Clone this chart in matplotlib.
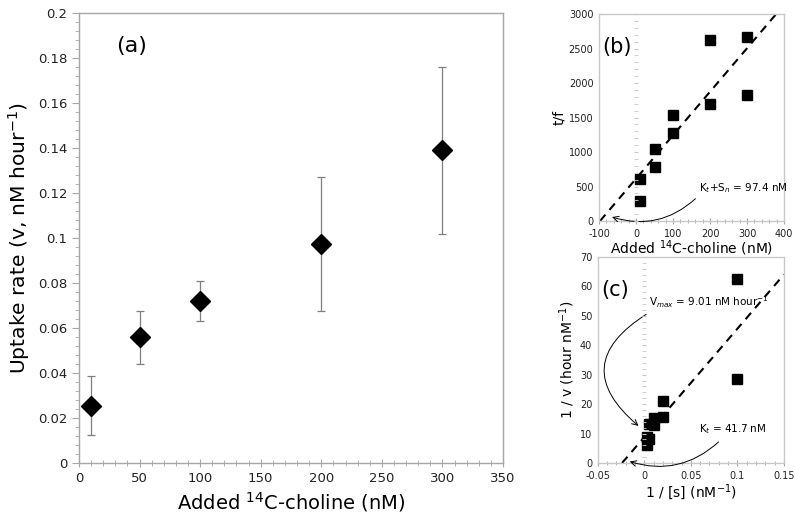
import numpy as np
import matplotlib.pyplot as plt
from matplotlib.ticker import MultipleLocator, FuncFormatter

# --- data, panel (a): uptake rate vs added choline
conc = [10, 50, 100, 200, 300]
rate = [0.0255, 0.056, 0.072, 0.0975, 0.139]
rate_hi = [0.0385, 0.0675, 0.081, 0.127, 0.176]
rate_lo = [0.0125, 0.044, 0.063, 0.0675, 0.102]

# --- panel (b): t/f vs added choline
conc_b = [10, 10, 50, 50, 100, 100, 200, 200, 300, 300]
tf = [615, 285, 1050, 780, 1530, 1278, 2630, 1695, 2660, 1820]
ksn = 97.4          # x-intercept magnitude
slope_b = 6.3

# --- panel (c): Lineweaver-Burk
inv_s = [0.1, 0.1, 0.02, 0.02, 0.01, 0.01, 0.005, 0.005, 0.00333, 0.00333]
inv_v = [62.4, 28.7, 21.1, 15.6, 15.3, 12.8, 13.1, 8.3, 8.8, 6.0]
kt = 41.7
slope_c = 368.0

GRAY = '#A6A6A6'
fmt = FuncFormatter(lambda v, p: '%g' % v)

fig = plt.figure(figsize=(7.95, 5.21), dpi=100)


def style_spines(ax, color=GRAY):
    for s in ax.spines.values():
        s.set_color(color)
        s.set_linewidth(1.0)


# ---------- panel (a)
ax = fig.add_axes([0.0994, 0.1113, 0.5333, 0.8637])
yerr = [np.array(rate) - np.array(rate_lo), np.array(rate_hi) - np.array(rate)]
ax.errorbar(conc, rate, yerr=yerr, fmt='none', ecolor='#7F7F7F', elinewidth=0.9,
            capsize=3, capthick=0.9, zorder=2)
ax.plot(conc, rate, 'D', color='black', markersize=10, zorder=3)
ax.set_xlim(0, 350)
ax.set_ylim(0, 0.2)
ax.xaxis.set_major_locator(MultipleLocator(50))
ax.xaxis.set_minor_locator(MultipleLocator(10))
ax.yaxis.set_major_locator(MultipleLocator(0.02))
ax.yaxis.set_minor_locator(MultipleLocator(0.004))
ax.xaxis.set_major_formatter(fmt)
ax.yaxis.set_major_formatter(fmt)
style_spines(ax)
ax.tick_params(which='both', color=GRAY, labelsize=9.5, labelcolor='#222222')
ax.tick_params(axis='y', which='major', direction='out', length=5)
ax.tick_params(axis='y', which='minor', direction='out', length=3)
ax.tick_params(axis='x', which='major', direction='inout', length=6)
ax.tick_params(axis='x', which='minor', direction='inout', length=4)
ax.set_xlabel('Added $^{14}$C-choline (nM)', fontsize=14, labelpad=4)
ax.set_ylabel('Uptake rate (v, nM hour$^{-1}$)', fontsize=14.6, labelpad=4)
ax.text(0.088, 0.905, '(a)', transform=ax.transAxes, fontsize=16, va='bottom')


def zero_axis(pos, xlim, ylim, ymajor, yminor):
    # vertical axis line drawn at x = 0, as in the spreadsheet plot
    ao = fig.add_axes(pos, frameon=False)
    ao.set_xlim(*xlim)
    ao.set_ylim(*ylim)
    ao.patch.set_visible(False)
    ao.xaxis.set_visible(False)
    ao.spines['left'].set_visible(True)
    ao.spines['left'].set_position(('data', 0))
    ao.spines['left'].set_color('#C8C8C8')
    ao.spines['left'].set_linewidth(0.9)
    ao.yaxis.set_major_locator(MultipleLocator(ymajor))
    ao.yaxis.set_minor_locator(MultipleLocator(yminor))
    ao.tick_params(axis='y', which='both', direction='inout', length=3,
                   color='#C8C8C8', labelleft=False)
    return ao


# ---------- panel (b)
pos_b = [0.7535, 0.5758, 0.2327, 0.3973]
axb = fig.add_axes(pos_b)
xb = np.array([-ksn, 400])
axb.plot(xb, slope_b * (xb + ksn), '--', color='black', lw=1.5, dashes=(4, 3))
axb.plot(conc_b, tf, 's', color='black', markersize=6.5, zorder=3)
axb.set_xlim(-100, 400)
axb.set_ylim(0, 3000)
axb.xaxis.set_major_locator(MultipleLocator(100))
axb.xaxis.set_minor_locator(MultipleLocator(20))
axb.yaxis.set_major_locator(MultipleLocator(500))
axb.xaxis.set_major_formatter(fmt)
style_spines(axb, '#C8C8C8')
axb.tick_params(which='both', labelsize=7, color=GRAY, labelcolor='#222222')
axb.tick_params(axis='y', length=0, pad=4)
axb.tick_params(axis='x', which='major', direction='inout', length=4)
axb.tick_params(axis='x', which='minor', direction='inout', length=2.5)
axb.set_xlabel('Added $^{14}$C-choline (nM)', fontsize=10, labelpad=0)
axb.set_ylabel('t/f', fontsize=10, labelpad=2)
axb.text(0.02, 0.79, '(b)', transform=axb.transAxes, fontsize=15, va='bottom')
axb.text(171, 480, 'K$_{t}$+S$_{n}$ = 97.4 nM', fontsize=7.5, va='center')
axb.annotate('', xy=(-72, 70), xytext=(166, 350),
             arrowprops=dict(arrowstyle='->', color='black', lw=0.7,
                             connectionstyle='arc3,rad=-0.3'))
zero_axis(pos_b, (-100, 400), (0, 3000), 500, 100)

# ---------- panel (c)
pos_c = [0.752, 0.1113, 0.2340, 0.3954]
axc = fig.add_axes(pos_c)
xc = np.array([-1.0 / kt, 0.15])
axc.plot(xc, slope_c * (xc + 1.0 / kt), '--', color='black', lw=1.5, dashes=(4, 3))
axc.plot(inv_s, inv_v, 's', color='black', markersize=6.5, zorder=3)
axc.set_xlim(-0.05, 0.15)
axc.set_ylim(0, 70)
axc.xaxis.set_major_locator(MultipleLocator(0.05))
axc.xaxis.set_minor_locator(MultipleLocator(0.01))
axc.yaxis.set_major_locator(MultipleLocator(10))
axc.xaxis.set_major_formatter(fmt)
axc.yaxis.set_major_formatter(fmt)
style_spines(axc, '#C8C8C8')
axc.tick_params(which='both', labelsize=7, color=GRAY, labelcolor='#222222')
axc.tick_params(axis='y', length=0, pad=4)
axc.tick_params(axis='x', which='major', direction='inout', length=4)
axc.tick_params(axis='x', which='minor', direction='inout', length=2.5)
axc.set_xlabel('1 / [s] (nM$^{-1}$)', fontsize=10, labelpad=1)
axc.set_ylabel('1 / v (hour nM$^{-1}$)', fontsize=10, labelpad=2)
axc.text(0.02, 0.79, '(c)', transform=axc.transAxes, fontsize=15, va='bottom')
axc.text(0.0055, 54.7, 'V$_{max}$ = 9.01 nM hour$^{-1}$', fontsize=7.5, va='center')
axc.annotate('', xy=(-0.004, 12), xytext=(0.0045, 51),
             arrowprops=dict(arrowstyle='->', color='black', lw=0.7,
                             connectionstyle='arc3,rad=0.7'))
axc.text(0.059, 11.6, 'K$_{t}$ = 41.7 nM', fontsize=7.5, va='center')
axc.annotate('', xy=(-0.0186, 0.8), xytext=(0.082, 7.8),
             arrowprops=dict(arrowstyle='->', color='black', lw=0.7,
                             connectionstyle='arc3,rad=-0.3'))
zero_axis(pos_c, (-0.05, 0.15), (0, 70), 10, 2)

fig.savefig('out.png', dpi=100)
